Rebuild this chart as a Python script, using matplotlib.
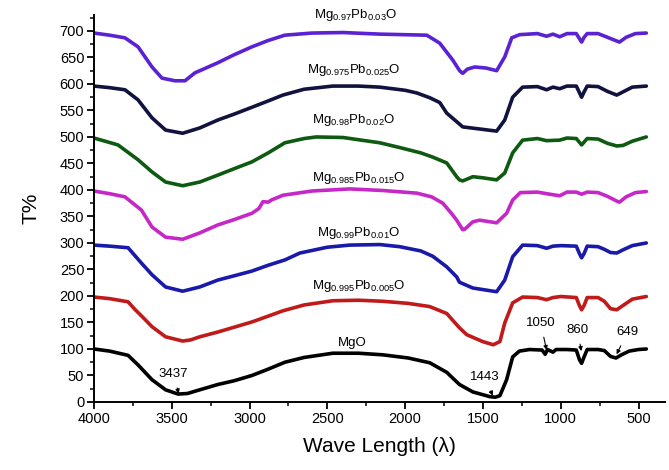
import matplotlib
matplotlib.use("Agg")
import matplotlib.pyplot as plt
from matplotlib.ticker import MultipleLocator

plt.rcParams['font.family'] = ['Liberation Sans', 'DejaVu Sans']
plt.rcParams['mathtext.fontset'] = 'custom'
plt.rcParams['mathtext.rm'] = 'Liberation Sans'

# ---- data (wavenumber, T%) ----
w_mgo = [4000, 3900, 3781, 3717, 3627, 3540, 3460, 3400, 3320, 3204, 3100, 2985, 2880, 2773, 2650, 2465, 2300, 2144, 1980, 1842, 1733, 1651, 1565, 1455, 1420, 1391, 1348, 1309, 1266, 1200, 1120, 1100, 1085, 1050, 1030, 960, 900, 880, 866, 850, 830, 760, 720, 680, 645, 610, 560, 500, 450]
t_mgo = [100, 96, 88, 70, 42, 23, 15, 16, 23, 33, 40, 50, 62, 75, 84, 92, 92, 89, 83, 74, 56, 33, 19, 10, 9, 12, 42, 85, 96, 99, 98, 90, 99, 94, 99, 99, 98, 80, 73, 85, 99, 99, 97, 86, 83, 89, 96, 99, 100]

w_005 = [4000, 3900, 3781, 3738, 3680, 3627, 3540, 3430, 3380, 3320, 3204, 3100, 2985, 2880, 2786, 2650, 2465, 2300, 2144, 1980, 1842, 1733, 1651, 1604, 1565, 1502, 1434, 1391, 1360, 1309, 1245, 1150, 1091, 1050, 1000, 900, 880, 866, 850, 830, 760, 720, 680, 640, 600, 540, 450]
t_005 = [198, 195, 189, 175, 158, 142, 123, 115, 117, 123, 132, 141, 151, 162, 172, 183, 191, 192, 190, 186, 180, 167, 140, 127, 122, 114, 108, 114, 149, 187, 198, 197, 193, 197, 199, 197, 182, 174, 182, 197, 197, 190, 176, 174, 182, 194, 199]

w_01 = [4000, 3900, 3781, 3695, 3627, 3540, 3430, 3320, 3204, 3100, 2985, 2880, 2773, 2677, 2500, 2356, 2163, 2035, 1900, 1823, 1733, 1669, 1651, 1565, 1412, 1360, 1309, 1245, 1150, 1091, 1050, 1000, 900, 880, 866, 850, 830, 760, 720, 680, 640, 600, 540, 450]
t_01 = [296, 294, 291, 262, 240, 217, 209, 217, 230, 238, 247, 258, 268, 281, 292, 296, 297, 293, 285, 275, 255, 236, 226, 215, 208, 230, 274, 296, 295, 290, 294, 295, 294, 280, 272, 280, 294, 293, 288, 282, 281, 287, 295, 300]

w_015 = [4000, 3900, 3801, 3695, 3627, 3540, 3430, 3320, 3204, 3100, 2985, 2940, 2914, 2880, 2860, 2786, 2600, 2356, 2144, 1925, 1830, 1758, 1700, 1669, 1630, 1617, 1565, 1521, 1412, 1348, 1309, 1260, 1150, 1091, 1007, 960, 900, 866, 830, 760, 700, 640, 622, 580, 520, 450]
t_015 = [398, 393, 387, 362, 330, 311, 307, 319, 334, 344, 356, 365, 378, 377, 381, 390, 398, 402, 399, 394, 387, 375, 355, 343, 325, 326, 340, 343, 338, 356, 381, 395, 396, 393, 389, 396, 396, 392, 396, 395, 388, 379, 377, 387, 395, 397]

w_02 = [4000, 3846, 3717, 3627, 3540, 3430, 3320, 3204, 3100, 2985, 2880, 2773, 2650, 2572, 2400, 2163, 2035, 1900, 1823, 1733, 1669, 1651, 1630, 1565, 1502, 1412, 1360, 1309, 1245, 1150, 1091, 1007, 960, 900, 866, 830, 760, 700, 640, 600, 540, 450]
t_02 = [498, 485, 457, 434, 415, 408, 415, 428, 440, 453, 470, 489, 497, 500, 499, 489, 480, 470, 462, 451, 425, 419, 417, 425, 423, 419, 432, 470, 494, 497, 493, 494, 498, 497, 485, 497, 496, 488, 483, 484, 492, 500]

w_025 = [4000, 3900, 3801, 3717, 3627, 3540, 3430, 3320, 3204, 3100, 2985, 2880, 2786, 2650, 2465, 2300, 2163, 2000, 1925, 1842, 1778, 1733, 1630, 1521, 1412, 1360, 1309, 1245, 1150, 1091, 1050, 1007, 960, 900, 866, 850, 830, 760, 700, 640, 600, 540, 450]
t_025 = [596, 593, 589, 570, 536, 513, 507, 517, 532, 543, 556, 568, 579, 590, 596, 596, 594, 588, 583, 574, 565, 545, 519, 515, 511, 532, 575, 594, 595, 589, 594, 591, 596, 596, 575, 585, 596, 595, 586, 579, 585, 594, 596]

w_03 = [4000, 3900, 3801, 3717, 3627, 3563, 3480, 3415, 3351, 3204, 3100, 2985, 2880, 2773, 2600, 2400, 2163, 1861, 1778, 1694, 1650, 1630, 1600, 1553, 1480, 1412, 1360, 1315, 1264, 1150, 1091, 1050, 1007, 960, 900, 866, 850, 830, 760, 700, 640, 622, 580, 520, 450]
t_03 = [696, 692, 687, 670, 632, 611, 606, 606, 621, 640, 655, 670, 682, 692, 696, 697, 694, 692, 677, 645, 625, 620, 628, 632, 630, 625, 651, 687, 693, 695, 690, 694, 689, 695, 695, 679, 688, 695, 695, 688, 681, 679, 688, 695, 696]

series_w = [w_mgo, w_005, w_01, w_015, w_02, w_025, w_03]
series_t = [t_mgo, t_005, t_01, t_015, t_02, t_025, t_03]
colors = ['#000000', '#C01A1A', '#1A1AAA', '#C628C8', '#0E5A10', '#12123F', '#5A22D2']
labels = ['MgO',
          r'Mg$_\mathregular{0.995}$Pb$_\mathregular{0.005}$O',
          r'Mg$_\mathregular{0.99}$Pb$_\mathregular{0.01}$O',
          r'Mg$_\mathregular{0.985}$Pb$_\mathregular{0.015}$O',
          r'Mg$_\mathregular{0.98}$Pb$_\mathregular{0.02}$O',
          r'Mg$_\mathregular{0.975}$Pb$_\mathregular{0.025}$O',
          r'Mg$_\mathregular{0.97}$Pb$_\mathregular{0.03}$O']
label_w = [2340, 2300, 2300, 2300, 2330, 2330, 2320]
label_t = [112, 218, 319, 422, 532, 626, 730]

peak_text = ['3437', '1443', '1050', '860', '649']
peak_xy = [(3455, 16), (1437, 12), (1091, 98), (868, 96), (641, 90)]
peak_txt = [(3490, 53), (1489, 47), (1129, 149), (891, 136), (570, 132)]

fig = plt.figure(figsize=(6.69, 4.70), dpi=100)
ax = fig.add_axes([0.1405, 0.1447, 0.8535, 0.8233])

for w, t, c in zip(series_w, series_t, colors):
    ax.plot(w, t, color=c, lw=2.6, solid_joinstyle='round', solid_capstyle='round')

for lab, lw_, lt in zip(labels, label_w, label_t):
    ax.text(lw_, lt, lab, ha='center', va='center', fontsize=9.5, clip_on=False)

for txt, xy, tp in zip(peak_text, peak_xy, peak_txt):
    ax.annotate(txt, xy=xy, xytext=tp, ha='center', va='center', fontsize=9.5,
                arrowprops=dict(arrowstyle='-|>', lw=0.8, color='black',
                                mutation_scale=6, shrinkA=4, shrinkB=0))

ax.set_xlim(4000, 330)
ax.set_ylim(0, 730)
ax.xaxis.set_major_locator(MultipleLocator(500))
ax.xaxis.set_minor_locator(MultipleLocator(250))
ax.yaxis.set_major_locator(MultipleLocator(50))
ax.yaxis.set_minor_locator(MultipleLocator(25))
ax.set_yticks(range(0, 701, 50))
ax.tick_params(axis='both', which='major', direction='out', length=5, width=1.3, labelsize=10.5, pad=2)
ax.tick_params(axis='both', which='minor', direction='out', length=3, width=1.1)

for s in ['top', 'right']:
    ax.spines[s].set_visible(False)
for s in ['left', 'bottom']:
    ax.spines[s].set_linewidth(1.4)

ax.set_xlabel('Wave Length (λ)', fontsize=15, labelpad=8)
ax.set_ylabel('T%', fontsize=15, labelpad=14)

fig.savefig('out.png', dpi=100)
